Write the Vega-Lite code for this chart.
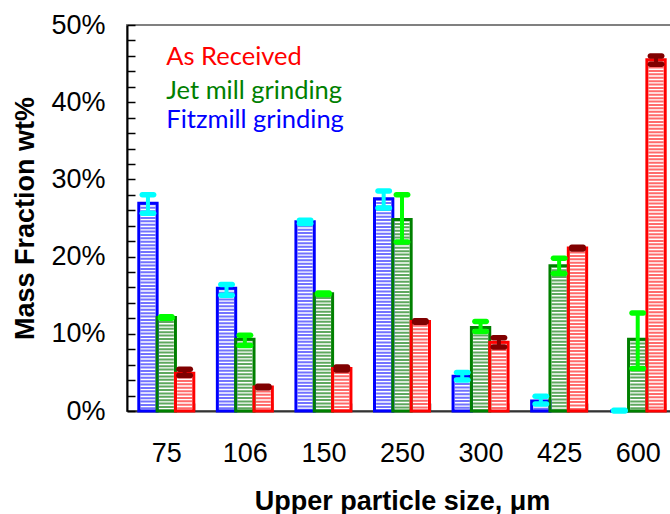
{
  "$schema": "https://vega.github.io/schema/vega-lite/v6.json",
  "autosize": {"type": "none"},
  "padding": {"left": 127, "top": 25, "right": 0, "bottom": 103},
  "width": 550,
  "height": 386,
  "background": "white",
  "config": {
    "view": {"stroke": "#808080", "strokeWidth": 2},
    "axis": {"labelFont": "Liberation Sans", "titleFont": "Liberation Sans", "labelColor": "black", "titleColor": "black", "grid": false, "labelOverlap": false, "labelFlush": false, "labelBound": false}
  },
  "datasets": {
    "bars": [
      {"size": "75", "series": "Fitzmill grinding", "value": 26.9, "lo": 25.6, "hi": 28.0},
      {"size": "75", "series": "Jet mill grinding", "value": 12.1, "lo": 12.0, "hi": 12.2},
      {"size": "75", "series": "As Received", "value": 4.9, "lo": 4.6, "hi": 5.4},
      {"size": "106", "series": "Fitzmill grinding", "value": 15.9, "lo": 15.0, "hi": 16.4},
      {"size": "106", "series": "Jet mill grinding", "value": 9.3, "lo": 8.5, "hi": 9.8},
      {"size": "106", "series": "As Received", "value": 3.1, "lo": 3.0, "hi": 3.2},
      {"size": "150", "series": "Fitzmill grinding", "value": 24.5, "lo": 24.3, "hi": 24.7},
      {"size": "150", "series": "Jet mill grinding", "value": 15.2, "lo": 15.1, "hi": 15.3},
      {"size": "150", "series": "As Received", "value": 5.5, "lo": 5.3, "hi": 5.7},
      {"size": "250", "series": "Fitzmill grinding", "value": 27.5, "lo": 26.3, "hi": 28.5},
      {"size": "250", "series": "Jet mill grinding", "value": 24.8, "lo": 21.9, "hi": 28.0},
      {"size": "250", "series": "As Received", "value": 11.6, "lo": 11.5, "hi": 11.7},
      {"size": "300", "series": "Fitzmill grinding", "value": 4.5, "lo": 4.0, "hi": 5.0},
      {"size": "300", "series": "Jet mill grinding", "value": 10.8, "lo": 10.3, "hi": 11.6},
      {"size": "300", "series": "As Received", "value": 8.9, "lo": 8.3, "hi": 9.5},
      {"size": "425", "series": "Fitzmill grinding", "value": 1.3, "lo": 0.9, "hi": 1.9},
      {"size": "425", "series": "Jet mill grinding", "value": 18.8, "lo": 17.8, "hi": 19.8},
      {"size": "425", "series": "As Received", "value": 21.1, "lo": 21.0, "hi": 21.2},
      {"size": "600", "series": "Fitzmill grinding", "value": 0, "lo": 0.0, "hi": 0.1},
      {"size": "600", "series": "Jet mill grinding", "value": 9.3, "lo": 5.5, "hi": 12.7},
      {"size": "600", "series": "As Received", "value": 45.5, "lo": 44.9, "hi": 46.0}
    ],
    "legend": [
      {"series": "As Received", "size": "75", "y": 45.8},
      {"series": "Jet mill grinding", "size": "75", "y": 41.5},
      {"series": "Fitzmill grinding", "size": "75", "y": 37.7}
    ]
  },
  "data": {"name": "bars"},
  "encoding": {
    "x": {
      "field": "size", "type": "nominal", "sort": ["75", "106", "150", "250", "300", "425", "600"],
      "scale": {"paddingInner": 0.3, "paddingOuter": 0.15},
      "axis": {
        "title": "Upper particle size, μm", "titleFontSize": 27, "titleFontWeight": "bold", "titlePadding": 22,
        "labelFontSize": 27, "labelAngle": 0, "labelPadding": 37,
        "tickBand": "extent", "tickSize": -8, "tickColor": "#404040", "tickWidth": 1.5,
        "domainColor": "#333333", "domainWidth": 2
      }
    },
    "xOffset": {
      "field": "series", "type": "nominal",
      "sort": ["Fitzmill grinding", "Jet mill grinding", "As Received"],
      "scale": {"paddingInner": 0, "paddingOuter": 0}
    }
  },
  "layer": [
    {
      "mark": {"type": "rule", "strokeWidth": 15, "strokeDash": [2, 1.4], "strokeCap": "butt"},
      "encoding": {
        "y": {
          "field": "value", "type": "quantitative",
          "scale": {"domain": [0, 50], "nice": false},
          "axis": {
            "title": "Mass Fraction wt%", "titleFontSize": 27, "titleFontWeight": "bold", "titlePadding": 11,
            "values": [0, 2, 4, 6, 8, 10, 12, 14, 16, 18, 20, 22, 24, 26, 28, 30, 32, 34, 36, 38, 40, 42, 44, 46, 48, 50],
            "tickCount": 100,
            "labelExpr": "datum.value % 10 == 0 ? datum.value + '%' : ''",
            "labelFontSize": 27, "labelPadding": 30, "labelOverlap": false,
            "tickSize": -8, "tickColor": "black", "tickWidth": 1.5,
            "domainColor": "black", "domainWidth": 2
          }
        },
        "y2": {"datum": 0},
        "stroke": {
          "field": "series", "type": "nominal", "legend": null,
          "scale": {"domain": ["Fitzmill grinding", "Jet mill grinding", "As Received"], "range": ["#7272FF", "#5FA85F", "#FF6A6A"]}
        }
      }
    },
    {
      "mark": {"type": "bar", "fillOpacity": 0, "strokeWidth": 3},
      "encoding": {
        "y": {"field": "value", "type": "quantitative"},
        "y2": {"datum": 0},
        "stroke": {
          "field": "series", "type": "nominal", "legend": null,
          "scale": {"domain": ["Fitzmill grinding", "Jet mill grinding", "As Received"], "range": ["#0000FF", "#008000", "#FF0000"]}
        }
      }
    },
    {
      "mark": {"type": "rule", "strokeWidth": 4},
      "encoding": {
        "y": {"field": "lo", "type": "quantitative"},
        "y2": {"field": "hi"},
        "stroke": {
          "field": "series", "type": "nominal", "legend": null,
          "scale": {"domain": ["Fitzmill grinding", "Jet mill grinding", "As Received"], "range": ["#00FFFF", "#00FF00", "#800000"]}
        }
      }
    },
    {
      "mark": {"type": "tick", "thickness": 5.5, "size": 17, "cornerRadius": 2.75, "opacity": 1},
      "encoding": {
        "y": {"field": "lo", "type": "quantitative"},
        "color": {
          "field": "series", "type": "nominal", "legend": null,
          "scale": {"domain": ["Fitzmill grinding", "Jet mill grinding", "As Received"], "range": ["#00FFFF", "#00FF00", "#800000"]}
        }
      }
    },
    {
      "mark": {"type": "tick", "thickness": 5.5, "size": 17, "cornerRadius": 2.75, "opacity": 1},
      "encoding": {
        "y": {"field": "hi", "type": "quantitative"},
        "color": {
          "field": "series", "type": "nominal", "legend": null,
          "scale": {"domain": ["Fitzmill grinding", "Jet mill grinding", "As Received"], "range": ["#00FFFF", "#00FF00", "#800000"]}
        }
      }
    },
    {
      "data": {"name": "legend"},
      "mark": {"type": "text", "align": "left", "baseline": "middle", "font": "Lato", "fontSize": 25.5},
      "encoding": {
        "x": {"field": "size", "type": "nominal"},
        "xOffset": null,
        "y": {"field": "y", "type": "quantitative"},
        "text": {"field": "series"},
        "fill": {
          "field": "series", "type": "nominal", "legend": null,
          "scale": {"domain": ["Fitzmill grinding", "Jet mill grinding", "As Received"], "range": ["#0000FF", "#008000", "#FF0000"]}
        }
      }
    }
  ],
  "resolve": {"scale": {"stroke": "independent"}}
}
